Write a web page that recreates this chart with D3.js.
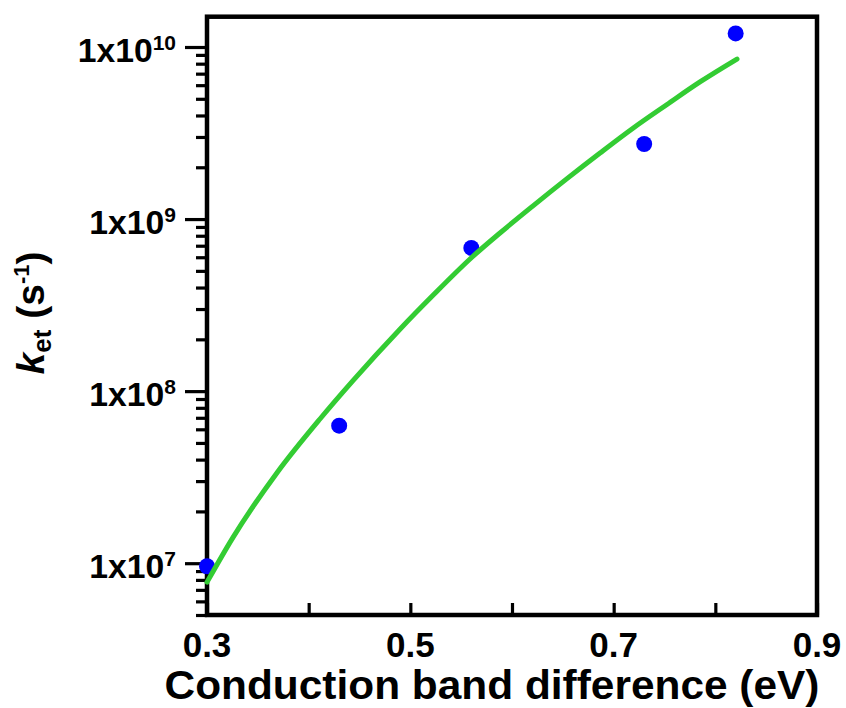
<!DOCTYPE html>
<html>
<head>
<meta charset="utf-8">
<script src="https://cdn.jsdelivr.net/npm/d3@7"></script>
<style>
  html, body { margin: 0; padding: 0; background: #fff; }
  svg { display: block; }
  text { font-family: "Liberation Sans", Arial, Helvetica, sans-serif; font-weight: bold; fill: #000; }
</style>
</head>
<body>
<svg id="chart" width="846" height="708"></svg>
<script>
// Measured data points (conduction band difference in eV, k_et in s^-1)
const xData = [0.30, 0.43, 0.56, 0.73, 0.82];
const kData = [9.6e6, 6.3e7, 6.8e8, 2.73e9, 1.2e10];

// Fit curve
const fitX = [0.300, 0.3256, 0.3689, 0.4111, 0.4436, 0.4898, 0.5223, 0.5606, 0.5882, 0.6207, 0.6541, 0.6866, 0.7190, 0.7525, 0.7849, 0.8213];
const fitK = [7.76e6, 1.413e7, 3.357e7, 6.887e7, 1.151e8, 2.291e8, 3.606e8, 6.0e8, 8.30e8, 1.194e9, 1.718e9, 2.421e9, 3.373e9, 4.634e9, 6.266e9, 8.511e9];

// Axis ticks
const xTicks = [0.3, 0.4, 0.5, 0.6, 0.7, 0.8, 0.9];
const xLabelTicks = [0.3, 0.5, 0.7, 0.9];
const yMajor = [1e7, 1e8, 1e9, 1e10];
const yMajorExp = ["7", "8", "9", "10"];
const yMinor = [5e6, 6e6, 7e6, 8e6, 9e6,
                2e7, 3e7, 4e7, 5e7, 6e7, 7e7, 8e7, 9e7,
                2e8, 3e8, 4e8, 5e8, 6e8, 7e8, 8e8, 9e8,
                2e9, 3e9, 4e9, 5e9, 6e9, 7e9, 8e9, 9e9];

const svg = d3.select("#chart");
const L = 207, R = 817, T = 16.7, B = 615;

const x = d3.scaleLinear().domain([0.3, 0.9]).range([L, R]);
const y = d3.scaleLog().domain([5e6, 1.5e10]).range([B, T]);

// y minor ticks (outward)
const yMinorAxis = svg.append("g").attr("transform", `translate(${L},0)`)
  .call(d3.axisLeft(y).tickValues(yMinor).tickSize(11).tickFormat(() => ""));
// y major ticks (outward)
const yMajorAxis = svg.append("g").attr("transform", `translate(${L},0)`)
  .call(d3.axisLeft(y).tickValues(yMajor).tickSize(22).tickFormat(() => ""));
// x ticks (inward)
const xAxis = svg.append("g").attr("transform", `translate(0,${B})`)
  .call(d3.axisBottom(x).tickValues(xTicks).tickSize(-12).tickFormat(() => ""));

[yMinorAxis, yMajorAxis, xAxis].forEach(g => {
  g.select(".domain").remove();
  g.selectAll(".tick line").attr("stroke", "#000").attr("stroke-width", 3.2);
});

// frame
svg.append("rect")
  .attr("x", L).attr("y", T).attr("width", R - L).attr("height", B - T)
  .attr("fill", "none").attr("stroke", "#000").attr("stroke-width", 4.5);

// y tick labels: 1x10^n
yMajor.forEach((v, i) => {
  const t = svg.append("text")
    .attr("x", 176).attr("y", y(v) + 15)
    .attr("text-anchor", "end")
    .style("font-size", "34px");
  t.append("tspan").attr("textLength", 75).attr("lengthAdjust", "spacingAndGlyphs").text("1x10");
  t.append("tspan").attr("dy", -12).style("font-size", "21px").text(yMajorExp[i]);
});

// x tick labels
svg.selectAll(".xlab").data(xLabelTicks).enter().append("text")
  .attr("class", "xlab")
  .attr("x", d => x(d)).attr("y", 657)
  .attr("text-anchor", "middle")
  .style("font-size", "35px")
  .text(d => d3.format(".1f")(d));

// x axis title
svg.append("text")
  .attr("x", 492).attr("y", 699)
  .attr("text-anchor", "middle")
  .attr("textLength", 655).attr("lengthAdjust", "spacingAndGlyphs")
  .style("font-size", "41px")
  .text("Conduction band difference (eV)");

// y axis title
const yt = svg.append("text")
  .attr("transform", "translate(44,313) rotate(-90)")
  .attr("text-anchor", "middle")
  .style("font-size", "39px");
yt.append("tspan").style("font-style", "italic").text("k");
yt.append("tspan").attr("dy", 7).style("font-size", "26px").text("et");
yt.append("tspan").attr("dy", -7).text(" (s");
yt.append("tspan").attr("dy", -15).style("font-size", "22px").text("-1");
yt.append("tspan").attr("dy", 15).text(")");

// data points
svg.selectAll(".pt").data(xData.map((d, i) => [d, kData[i]])).enter().append("circle")
  .attr("class", "pt")
  .attr("cx", d => x(d[0])).attr("cy", d => y(d[1]))
  .attr("r", 8).attr("fill", "#0000ff");

// fit curve
const line = d3.line().x(d => x(d[0])).y(d => y(d[1])).curve(d3.curveMonotoneX);
svg.append("path")
  .datum(fitX.map((d, i) => [d, fitK[i]]))
  .attr("d", line)
  .attr("fill", "none").attr("stroke", "#33cc33")
  .attr("stroke-width", 5).attr("stroke-linecap", "round");
</script>
</body>
</html>
